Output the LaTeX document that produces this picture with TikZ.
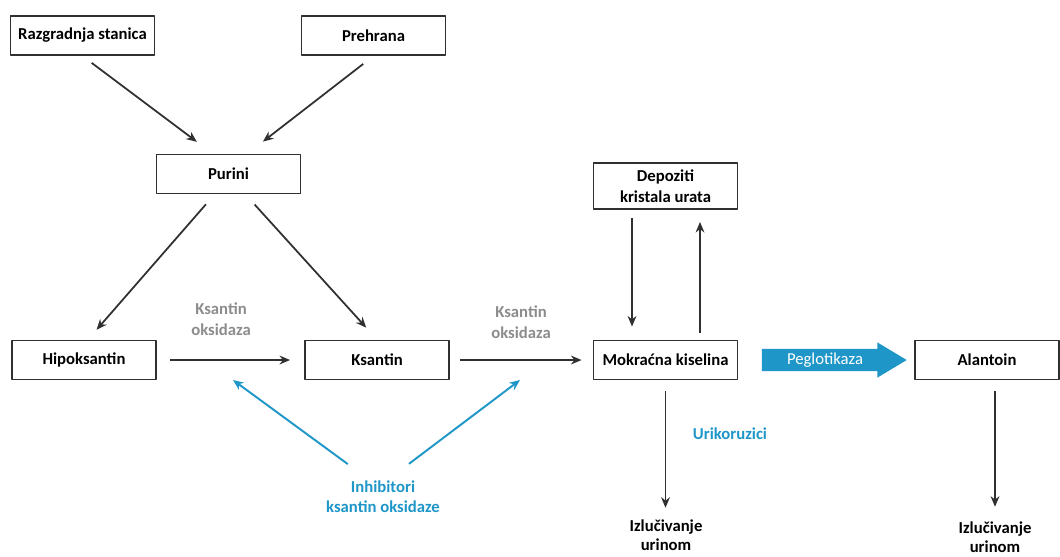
\documentclass[tikz,border=0pt]{standalone}
\usepackage{fontspec}
\setmainfont{Carlito}
\usetikzlibrary{arrows.meta,shapes.arrows}
\definecolor{uratblue}{HTML}{1E96C8}
\definecolor{enzgray}{HTML}{8C8C8C}
\definecolor{linegray}{HTML}{303030}
\begin{document}
\begin{tikzpicture}[x=0.02cm,y=-0.02cm,>={Stealth[length=6pt,width=5pt]},font=\bfseries\fontsize{9.5}{12}\selectfont,line join=round,
	box/.style={draw=linegray,line width=1.1pt,minimum width=2.88cm,minimum height=0.78cm,inner sep=1pt,align=center},
	flow/.style={->,draw=linegray,line width=1pt},
	inhib/.style={->,draw=uratblue,line width=1.1pt},
	lbl/.style={align=center,inner sep=1pt,font=\bfseries\fontsize{9.5}{11.5}\selectfont}]
	\useasboundingbox (0,0) rectangle (1060,556);
	% boxes
	\node[box] (rz) at (82.5,35.5) {Razgradnja stanica};
	\node[box] (ph) at (373.5,35.5) {Prehrana};
	\node[box] (pu) at (228.5,174) {Purini};
	\node[box] (hp) at (84,360) {Hipoksantin};
	\node[box] (ks) at (377,360) {Ksantin};
	\node[box] (mk) at (665.5,360) {Mokraćna kiselina};
	\node[box,minimum height=0.92cm] (dp) at (665.5,186) {Depoziti\\kristala urata};
	\node[box] (al) at (987,360) {Alantoin};
	% labels
	\node[lbl,text=enzgray,font=\bfseries\fontsize{9.5}{12}\selectfont] (ko1) at (221,319) {Ksantin\\oksidaza};
	\node[lbl,text=enzgray,font=\bfseries\fontsize{9.5}{12}\selectfont] (ko2) at (521,322) {Ksantin\\oksidaza};
	\node[lbl,text=uratblue] (in) at (383,497) {Inhibitori\\ksantin oksidaze};
	\node[lbl,text=uratblue] (uk) at (730,434) {Urikoruzici};
	\node[lbl,font=\bfseries\fontsize{9.5}{10.5}\selectfont] (iz1) at (666,535) {Izlučivanje\\urinom};
	\node[lbl,font=\bfseries\fontsize{9.5}{10.5}\selectfont] (iz2) at (995,537) {Izlučivanje\\urinom};
	\node[single arrow,fill=uratblue,text=white,font=\fontsize{9.5}{12}\selectfont,minimum height=2.9cm,minimum width=0.68cm,
		inner ysep=2pt,single arrow head extend=0.13cm,single arrow tip angle=62] (pg) at (825,360) {Peglotikaza};
	\coordinate (xo1) at (233,380); \coordinate (xo2) at (520,380);
	% arrows
	\draw[flow,shorten <=0.23cm,shorten >=0.39cm] (rz.south)--([shift={(-16,0)}]pu.north);
	\draw[flow,shorten <=0.26cm,shorten >=0.39cm] (ph.south)--([shift={(19,0)}]pu.north);
	\draw[flow,shorten <=0.26cm,shorten >=0.26cm] ([shift={(-14,0)}]pu.south)--([shift={(4,0)}]hp.north);
	\draw[flow,shorten <=0.27cm,shorten >=0.32cm] ([shift={(17,0)}]pu.south)--(ks.north);
	\draw[flow,shorten <=0.26cm,shorten >=0.28cm] (hp.east)--(ks.west);
	\draw[flow,shorten <=0.2cm,shorten >=0.22cm] (ks.east)--(mk.west);
	\draw[flow,shorten <=0.16cm,shorten >=0.26cm] ([shift={(-33.5,0)}]dp.south)--([shift={(-33.5,0)}]mk.north);
	\draw[flow,shorten <=0.14cm,shorten >=0.24cm] ([shift={(34.5,0)}]mk.north)--([shift={(34.5,0)}]dp.south);
	\draw[flow,shorten <=0.22cm,shorten >=0.2cm] (mk.south)--(mk.south |- iz1.north);
	\draw[flow,shorten <=0.22cm,shorten >=0.26cm] ([shift={(8,0)}]al.south)--([shift={(8,0)}]al.south |- iz2.north);
	\draw[inhib,shorten <=0.5cm] ([shift={(-15,0)}]in.north)--(xo1);
	\draw[inhib,shorten <=0.5cm] ([shift={(6,0)}]in.north)--(xo2);
\end{tikzpicture}
\end{document}
